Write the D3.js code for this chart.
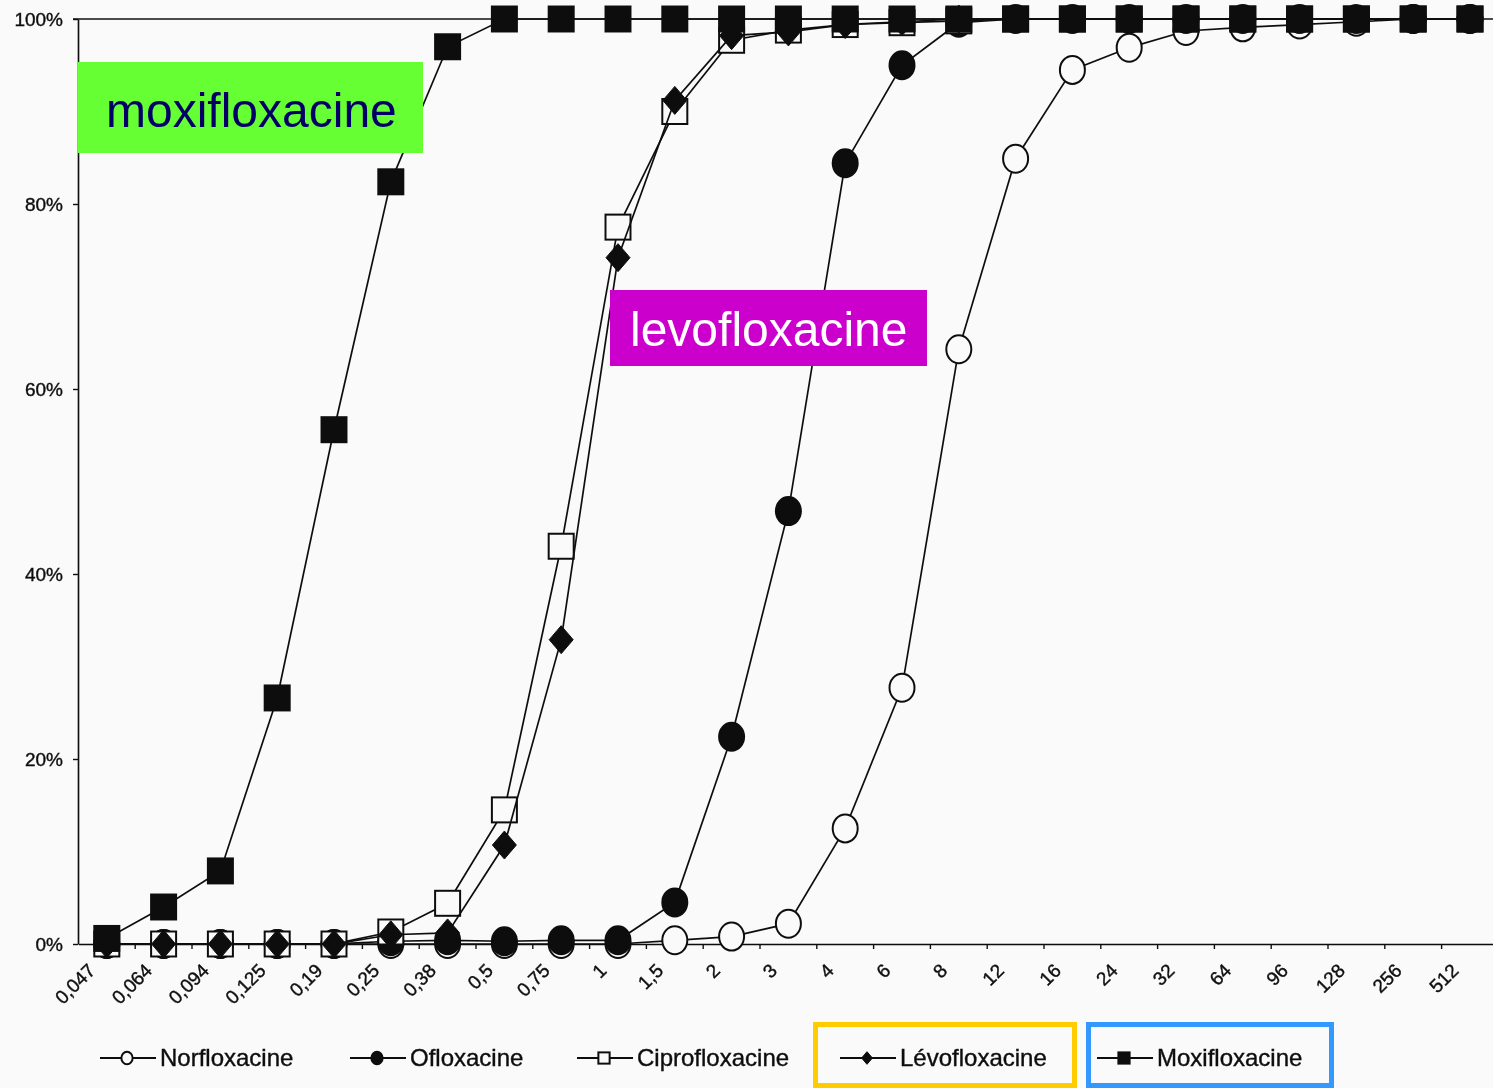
<!DOCTYPE html>
<html>
<head>
<meta charset="utf-8">
<script src="https://cdn.jsdelivr.net/npm/d3@7"></script>
<style>
  html, body { margin: 0; padding: 0; background: #fafafa; }
  svg { display: block; }
  text { font-family: "Liberation Sans", Arial, sans-serif; }
</style>
</head>
<body>
<svg id="chart" width="1493" height="1088"></svg>
<script>
// MIC dilutions (mg/L) and cumulative % of strains inhibited
const categories = ["0,047","0,064","0,094","0,125","0,19","0,25","0,38","0,5","0,75","1","1,5","2","3","4","6","8","12","16","24","32","64","96","128","256","512"];
const norfloxacine   = [0,0,0,0,0,0,0,0,0,0,0.4,0.8,2.2,12.5,27.7,64.3,84.9,94.5,96.9,98.7,99.1,99.4,99.7,100,100];
const ofloxacine     = [0,0,0,0,0,0.3,0.4,0.3,0.4,0.4,4.5,22.4,46.8,84.4,95,99.6,100,100,100,100,100,100,100,100,100];
const ciprofloxacine = [0,0,0,0,0,1.3,4.4,14.5,43,77.5,90,97.7,98.8,99.4,99.6,99.8,100,100,100,100,100,100,100,100,100];
const levofloxacine  = [0,0,0,0,0,1.0,1.2,10.7,32.9,74.2,91.2,98.2,98.6,99.4,99.7,100,100,100,100,100,100,100,100,100,100];
const moxifloxacine  = [0.6,4.0,7.9,26.6,55.6,82.4,97.0,100,100,100,100,100,100,100,100,100,100,100,100,100,100,100,100,100,100];
const yTicks = [0,20,40,60,80,100];
const legendNames = ["Norfloxacine","Ofloxacine","Ciprofloxacine","Lévofloxacine","Moxifloxacine"];
const markerTypes = ["openCircle","filledCircle","openSquare","filledDiamond","filledSquare"];

const series = [norfloxacine, ofloxacine, ciprofloxacine, levofloxacine, moxifloxacine]
  .map((vals, i) => ({ name: legendNames[i], marker: markerTypes[i],
                       points: vals.map((v, j) => ({ cat: categories[j], v })) }));

const svg = d3.select("#chart");
const W = 1493, H = 1088;
svg.append("rect").attr("width", W).attr("height", H).attr("fill", "#fafafa");

// soft, slightly blurred look of the printed figure
const defs = svg.append("defs");
defs.append("filter").attr("id", "soft")
  .attr("x", "-5%").attr("y", "-5%").attr("width", "110%").attr("height", "110%")
  .append("feGaussianBlur").attr("stdDeviation", 0.6);

const plotLeft = 78, plotTop = 19, plotBottom = 944;
const x = d3.scaleBand().domain(categories).range([plotLeft + 0.4, plotLeft + 0.4 + 25 * 56.8]).padding(0);
const cx = c => x(c) + x.bandwidth() / 2;
const y = d3.scaleLinear().domain([0, 100]).range([plotBottom, plotTop]);

const g = svg.append("g").attr("filter", "url(#soft)");
const ink = "#111";

// plot frame top edge
g.append("line").attr("x1", plotLeft - 5).attr("x2", W).attr("y1", y(100)).attr("y2", y(100))
  .attr("stroke", ink).attr("stroke-width", 1.6);

// y axis
const yAxis = g.append("g").attr("transform", `translate(${plotLeft},0)`)
  .call(d3.axisLeft(y).tickValues(yTicks).tickFormat(d => d + "%").tickSize(5).tickSizeOuter(0).tickPadding(10));
yAxis.select(".domain").attr("stroke", ink).attr("stroke-width", 1.6);
yAxis.selectAll(".tick line").attr("stroke", ink).attr("stroke-width", 1.4);
yAxis.selectAll(".tick text").attr("fill", ink).attr("stroke", ink).attr("stroke-width", 0.4)
  .style("font-size", "19px")
  .style("font-family", "'Liberation Sans', Arial, sans-serif").attr("dy", "0.36em");

// x axis
const xAxis = g.append("g").attr("transform", `translate(0,${plotBottom})`)
  .call(d3.axisBottom(x).tickSize(0).tickSizeOuter(0));
xAxis.select(".domain").attr("stroke", ink).attr("stroke-width", 1.6);
xAxis.selectAll(".tick text")
  .attr("x", 0).attr("y", 0).attr("dy", "0.35em")
  .attr("transform", "translate(-15,23) rotate(-45)")
  .style("text-anchor", "end").style("font-size", "19px")
  .style("font-family", "'Liberation Sans', Arial, sans-serif")
  .attr("fill", ink).attr("stroke", ink).attr("stroke-width", 0.4);
// tick marks between dilutions
g.append("g").selectAll("line").data(categories.slice(1)).join("line")
  .attr("x1", d => x(d)).attr("x2", d => x(d))
  .attr("y1", plotBottom).attr("y2", plotBottom + 5)
  .attr("stroke", ink).attr("stroke-width", 1.4);

// series lines and markers
const line = d3.line().x(d => cx(d.cat)).y(d => y(d.v));
const paper = "#fafafa";

function drawMarker(sel, type, scale) {
  const s = scale || 1;
  if (type === "openCircle" || type === "filledCircle") {
    sel.append("ellipse").attr("rx", 12.5 * s).attr("ry", 14 * s)
      .attr("fill", type === "openCircle" ? paper : ink)
      .attr("stroke", ink).attr("stroke-width", 2);
  } else if (type === "openSquare" || type === "filledSquare") {
    const h = 12.5 * s;
    sel.append("rect").attr("x", -h).attr("y", -h).attr("width", 2 * h).attr("height", 2 * h)
      .attr("fill", type === "openSquare" ? paper : ink)
      .attr("stroke", ink).attr("stroke-width", 2);
  } else if (type === "filledDiamond") {
    const a = 12 * s, b = 14 * s;
    sel.append("path").attr("d", `M0,${-b}L${a},0L0,${b}L${-a},0Z`)
      .attr("fill", ink).attr("stroke", ink).attr("stroke-width", 1);
  }
}

series.forEach(s => {
  const sg = g.append("g");
  sg.append("path").datum(s.points).attr("d", line)
    .attr("fill", "none").attr("stroke", ink).attr("stroke-width", 1.7);
  sg.selectAll("g.m").data(s.points).join("g").attr("class", "m")
    .attr("transform", d => `translate(${cx(d.cat)},${y(d.v)})`)
    .each(function () { drawMarker(d3.select(this), s.marker, 1); });
});

// legend
const legendX = [100, 350, 577, 840, 1097];
const legendY = 1058;
series.forEach((s, i) => {
  const lg = g.append("g").attr("transform", `translate(${legendX[i]},${legendY})`);
  lg.append("line").attr("x1", 0).attr("x2", 56).attr("y1", 0).attr("y2", 0)
    .attr("stroke", ink).attr("stroke-width", 2);
  const mg = lg.append("g").attr("transform", "translate(27,0)");
  drawMarker(mg, s.marker, 0.45);
  lg.append("text").attr("x", 60).attr("y", 0).attr("dy", "0.35em")
    .style("font-size", "24px").attr("fill", ink).attr("stroke", ink).attr("stroke-width", 0.4)
    .text(s.name);
});

// highlight boxes around two legend entries
svg.append("rect").attr("x", 815.5).attr("y", 1024.5).attr("width", 259).attr("height", 61)
  .attr("fill", "none").attr("stroke", "#ffcc00").attr("stroke-width", 5);
svg.append("rect").attr("x", 1088.5).attr("y", 1024.5).attr("width", 243).attr("height", 61)
  .attr("fill", "none").attr("stroke", "#3399ff").attr("stroke-width", 5);

// name tags
svg.append("rect").attr("x", 78).attr("y", 62).attr("width", 345).attr("height", 91).attr("fill", "#66ff33");
svg.append("text").attr("x", 106).attr("y", 127).style("font-size", "48px").attr("fill", "#000066")
  .text("moxifloxacine");
svg.append("rect").attr("x", 610).attr("y", 290).attr("width", 317).attr("height", 76).attr("fill", "#cc00cc");
svg.append("text").attr("x", 630).attr("y", 346).style("font-size", "48px").attr("fill", "#ffffff")
  .text("levofloxacine");
</script>
</body>
</html>
